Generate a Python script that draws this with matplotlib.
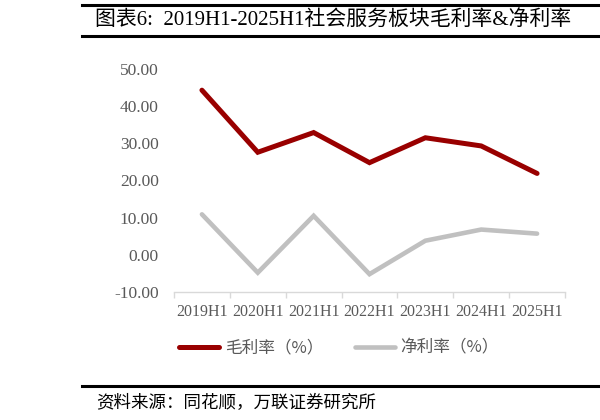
import matplotlib
matplotlib.use("Agg")
import matplotlib.pyplot as plt
from matplotlib.lines import Line2D

plt.rcParams['font.family'] = ['Liberation Serif', 'Noto Sans CJK SC', 'DejaVu Sans']

categories = ["2019H1", "2020H1", "2021H1", "2022H1", "2023H1", "2024H1", "2025H1"]
gross_margin = [44.3, 27.6, 32.9, 24.8, 31.5, 29.3, 21.9]
net_margin = [10.9, -4.8, 10.5, -5.2, 3.8, 6.8, 5.7]
yticks = [-10, 0, 10, 20, 30, 40, 50]
series_names = ["毛利率（%）", "净利率（%）"]
title_text = "图表6:  2019H1-2025H1社会服务板块毛利率&净利率"
source_text = "资料来源：同花顺，万联证券研究所"

W, H = 600, 420
fig = plt.figure(figsize=(6, 4.2), dpi=100)

def fx(px):
    return px / W

def fy(py):
    return 1 - py / H

ax = fig.add_axes([fx(174), fy(292), fx(565) - fx(174), fy(69) - fy(292)])

x = list(range(len(categories)))
red = "#990000"
grey = "#C0C0C0"
ax.plot(x, gross_margin, color=red, lw=3.6, solid_capstyle='round', solid_joinstyle='miter')
ax.plot(x, net_margin, color=grey, lw=3.3, solid_capstyle='round', solid_joinstyle='miter')

ax.set_xlim(-0.5, len(categories) - 0.5)
ax.set_ylim(-10, 50)
ax.set_yticks(yticks)
ax.set_yticklabels([f"{v:.2f}" for v in yticks])
ax.set_xticks(x)
ax.set_xticklabels(categories)
ax.set_xticks([i - 0.5 for i in range(len(categories) + 1)], minor=True)

for s in ["top", "right", "left"]:
    ax.spines[s].set_visible(False)
ax.spines["bottom"].set_color("#D9D9D9")
ax.spines["bottom"].set_linewidth(1.0)

ax.tick_params(axis='x', which='major', length=0, pad=8.5, labelsize=11.5, labelcolor="#595959")
ax.tick_params(axis='x', which='minor', length=4, color="#D9D9D9", width=1.0)
ax.tick_params(axis='y', length=0, pad=11, labelsize=12.5, labelcolor="#595959")

# legend
handles = [Line2D([], [], color=red, lw=3.6, solid_capstyle='round'),
           Line2D([], [], color=grey, lw=3.3, solid_capstyle='round')]
leg = fig.legend(handles, series_names, loc='center', bbox_to_anchor=(fx(339), fy(348)),
                 ncol=2, frameon=False, handlelength=2.4, handletextpad=0.35,
                 columnspacing=1.9, prop={'family': ['Noto Sans CJK SC'], 'size': 12})
for t in leg.get_texts():
    t.set_color("#595959")

# title bars
fig.add_artist(Line2D([fx(82), 1], [fy(4.5), fy(4.5)], color="black", lw=2.2))
fig.add_artist(Line2D([fx(82), 1], [fy(35.5), fy(35.5)], color="black", lw=2.2))
fig.text(fx(95), fy(21), title_text, fontsize=15, va='center', ha='left', color="black")

# source
fig.add_artist(Line2D([fx(82), 1], [fy(386), fy(386)], color="black", lw=2.2))
fig.text(fx(96), fy(403), source_text, fontsize=12.6, va='center', ha='left',
         color="black", family=['Noto Sans CJK SC'], style='italic')

fig.savefig("out.png", dpi=100)
